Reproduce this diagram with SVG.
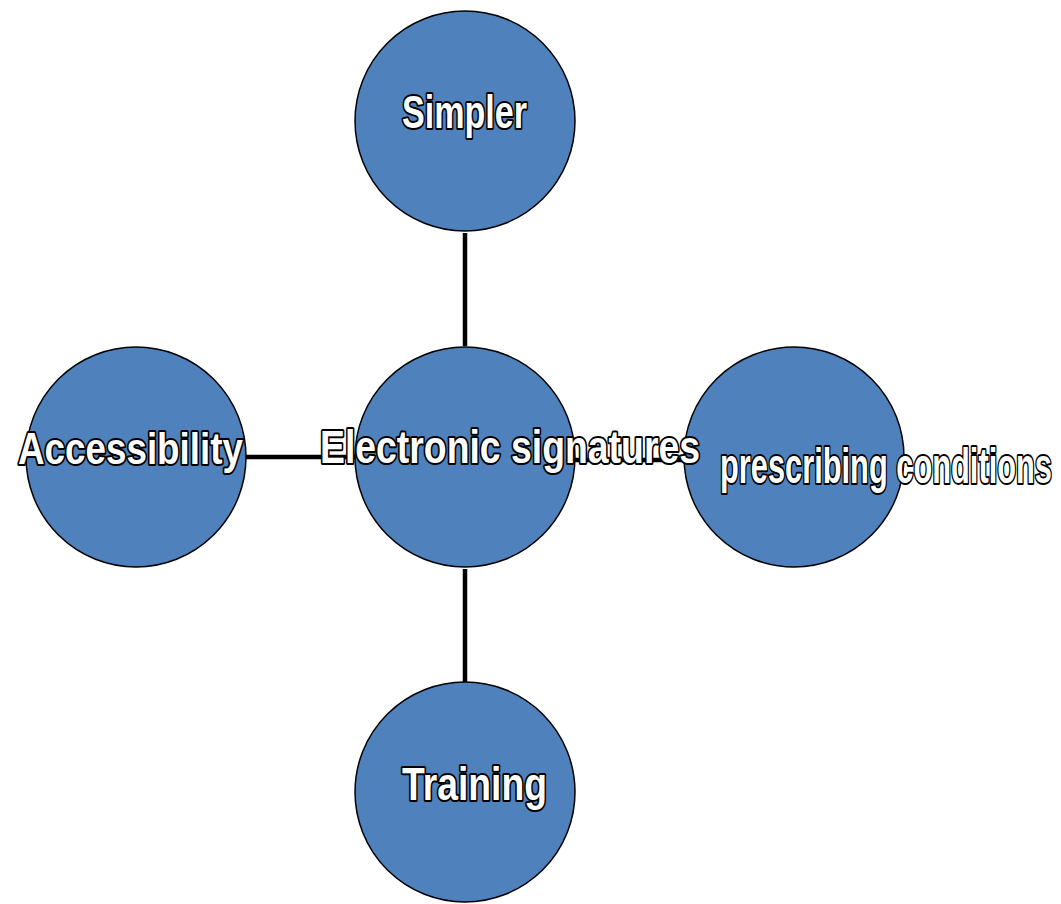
<svg xmlns="http://www.w3.org/2000/svg" width="1061" height="904" viewBox="0 0 1061 904">
<style>
.node circle{fill:#4F81BD;stroke:#000;stroke-width:1.5}
.lbl{font-family:"Liberation Sans",Arial,sans-serif;font-weight:bold;fill:#fff;stroke:#000;stroke-width:4;paint-order:stroke;stroke-linejoin:round}
.conn line{stroke:#000;stroke-width:4.5}
</style>
<rect width="1061" height="904" fill="#fff"/>
<g id="connectors" class="conn">
<line x1="465" y1="233" x2="465" y2="346"/>
<line x1="465" y1="569" x2="465" y2="683"/>
<line x1="245" y1="457" x2="356" y2="457"/>
<line x1="574" y1="460" x2="685" y2="460"/>
</g>
<g id="simpler" class="node"><circle cx="465" cy="121" r="110"/></g>
<g id="accessibility" class="node"><circle cx="136" cy="457" r="110"/></g>
<g id="electronic" class="node"><circle cx="465" cy="457" r="110"/></g>
<g id="prescribing" class="node"><circle cx="794" cy="457" r="110"/></g>
<g id="training" class="node"><circle cx="465" cy="792" r="110"/></g>
<g id="labels">
<text class="lbl" x="402" y="128" font-size="46" textLength="125" lengthAdjust="spacingAndGlyphs">Simpler</text>
<text class="lbl" x="18" y="464" font-size="45" textLength="225" lengthAdjust="spacingAndGlyphs">Accessibility</text>
<text class="lbl" x="320" y="463" font-size="47" textLength="380" lengthAdjust="spacingAndGlyphs">Electronic signatures</text>
<text class="lbl" x="720" y="483" font-size="50" textLength="332" lengthAdjust="spacingAndGlyphs">prescribing conditions</text>
<text class="lbl" x="402" y="800" font-size="47" textLength="145" lengthAdjust="spacingAndGlyphs">Training</text>
</g>
</svg>
